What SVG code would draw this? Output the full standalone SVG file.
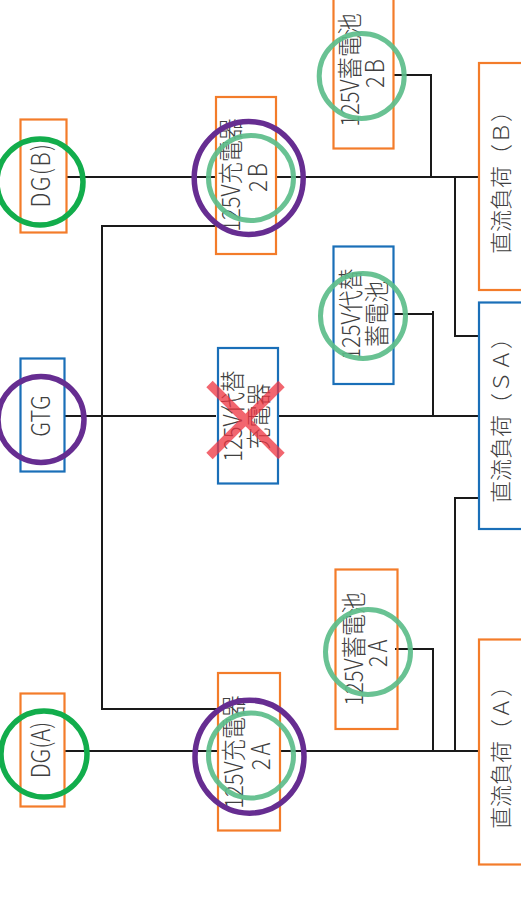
<svg xmlns="http://www.w3.org/2000/svg" width="521" height="906" viewBox="0 0 521 906">
<style>
.o{fill:none;stroke:#f37c2a;stroke-width:2.2}
.b{fill:none;stroke:#1a6fb8;stroke-width:2.2}
.l{fill:none;stroke:#1a1a1a;stroke-width:2}
.p{fill:none;stroke:#662d91;stroke-width:5.500}
.g{fill:none;stroke:#5cbd8a;stroke-width:5;opacity:.92}
.d{fill:none;stroke:#12ad4c;stroke-width:5.500}
.x{stroke:#ee3340;stroke-width:9;opacity:.75}
text{font-family:"Noto Sans CJK JP","Noto Sans",sans-serif;font-weight:300;font-size:22px;fill:#404040;text-anchor:middle}
</style>
<rect width="521" height="906" fill="#fff"/>
<g id="connectors">
<path class="l" d="M66 177H216M277 177H478"/>
<path class="l" d="M64 416H216M278 416H478"/>
<path class="l" d="M64 751H218M280 751H479"/>
<path class="l" d="M216 226H102V709H218"/>
<path class="l" d="M393 75H431V177"/>
<path class="l" d="M455 177V336H478"/>
<path class="l" d="M394 314H433M433 311V416"/>
<path class="l" d="M478 498H455V751"/>
<path class="l" d="M395 649H433V751"/>
</g>
<g id="dgb"><rect class="o" x="20.500" y="119.500" width="46" height="113"/><text transform="translate(50,175) rotate(-90) scale(1,1.14)" letter-spacing="1.500">DG(B)</text><circle class="d" cx="40" cy="182" r="43"/></g>
<g id="gtg"><rect class="b" x="20.500" y="358.500" width="44" height="113"/><text transform="translate(49.500,416) rotate(-90) scale(1,1.14)">GTG</text><circle class="p" cx="41" cy="419.500" r="43"/></g>
<g id="dga"><rect class="o" x="20.500" y="693.500" width="44" height="113"/><text transform="translate(49.500,750) rotate(-90) scale(1,1.14)">DG(A)</text><circle class="d" cx="44" cy="754" r="43"/></g>
<g id="charger2b"><rect class="o" x="216" y="97" width="60" height="157"/><text transform="translate(240,175) rotate(-90) scale(1,1.14)">125V充電器</text><text transform="translate(266.500,176) rotate(-90) scale(1,1.14)" letter-spacing="3">2B</text><ellipse class="p" cx="248.700" cy="178" rx="54.500" ry="56.500"/><circle class="g" cx="251" cy="178" r="42.500"/></g>
<g id="charger-alt"><rect class="b" x="218" y="348" width="60" height="135.500"/><text transform="translate(241.500,416) rotate(-90) scale(1,1.14)">125V代替</text><text transform="translate(268,416.500) rotate(-90) scale(1,1.14)">充電器</text><path class="x" d="M209.500 384L281.500 456M281.500 384L209.500 456"/></g>
<g id="charger2a"><rect class="o" x="218" y="673" width="62" height="157.500"/><text transform="translate(243,752) rotate(-90) scale(1,1.14)">125V充電器</text><text transform="translate(270,755) rotate(-90) scale(1,1.14)" letter-spacing="3">2A</text><ellipse class="p" cx="249.500" cy="756.700" rx="54.500" ry="56.500"/><circle class="g" cx="251" cy="755.500" r="42.500"/></g>
<g id="battery2b"><rect class="o" x="333.500" y="-5" width="60" height="153.500"/><text transform="translate(358.500,70) rotate(-90) scale(1,1.14)">125V蓄電池</text><text transform="translate(384,72) rotate(-90) scale(1,1.14)" letter-spacing="3">2B</text><circle class="g" cx="361.700" cy="76" r="42.500"/></g>
<g id="battery-alt"><rect class="b" x="333.500" y="246.500" width="60" height="137.500"/><text transform="translate(360,314) rotate(-90) scale(1,1.14)">125V代替</text><text transform="translate(385.500,314) rotate(-90) scale(1,1.14)">蓄電池</text><circle class="g" cx="363" cy="316" r="42.500"/></g>
<g id="battery2a"><rect class="o" x="335.500" y="569.500" width="62" height="159.500"/><text transform="translate(362.500,649) rotate(-90) scale(1,1.14)">125V蓄電池</text><text transform="translate(387,652) rotate(-90) scale(1,1.14)" letter-spacing="3">2A</text><circle class="g" cx="368" cy="652" r="42.500"/></g>
<g id="loadb"><rect class="o" x="479" y="63" width="60" height="227"/><text transform="translate(508.500,177) rotate(-90)">直流負荷（Ｂ）</text></g>
<g id="loadsa"><rect class="b" x="479" y="302.500" width="60" height="226.500"/><text transform="translate(508.500,415) rotate(-90)">直流負荷（ＳＡ）</text></g>
<g id="loada"><rect class="o" x="479" y="639.500" width="60" height="225"/><text transform="translate(508.500,752) rotate(-90)">直流負荷（Ａ）</text></g>
</svg>
